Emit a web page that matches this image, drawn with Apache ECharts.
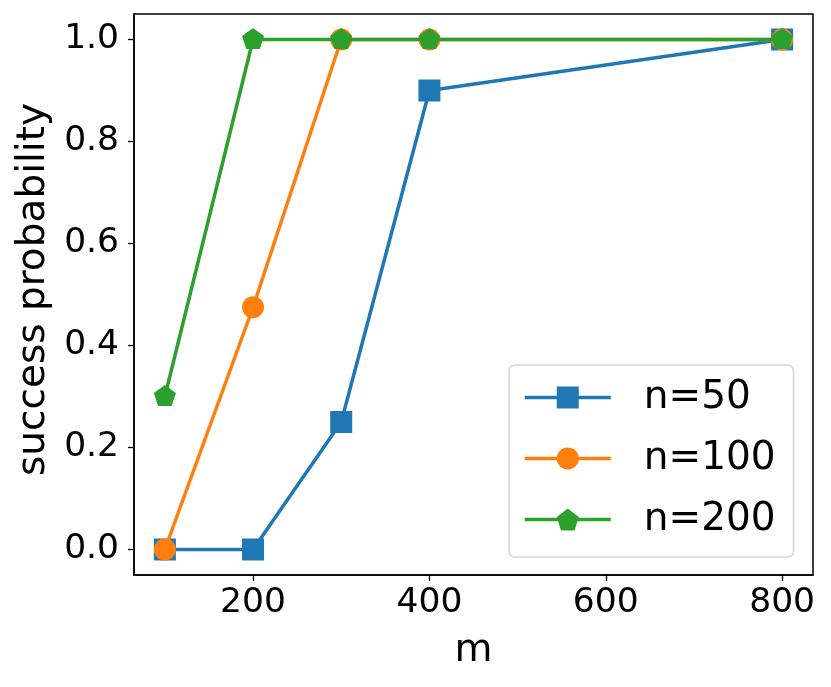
<!DOCTYPE html>
<html>
<head>
<meta charset="utf-8">
<script src="https://cdn.jsdelivr.net/npm/echarts@6/dist/echarts.min.js"></script>
<style>
html,body{margin:0;padding:0;background:#fff;}
#chart{width:831px;height:687px;}
</style>
</head>
<body>
<div id="chart"></div>
<script>
const mValues = [100, 200, 300, 400, 800];
const n50 = [0, 0, 0.25, 0.9, 1.0];
const n100 = [0, 0.475, 1.0, 1.0, 1.0];
const n200 = [0.3, 1.0, 1.0, 1.0, 1.0];
const seriesNames = ['n=50', 'n=100', 'n=200'];
const xTicks = [200, 400, 600, 800];
const yTicks = [0, 0.2, 0.4, 0.6, 0.8, 1.0];

const FONT = 'DejaVu Sans';
const pentagon = 'path://M0,-1 L0.9511,-0.309 L0.5878,0.809 L-0.5878,0.809 L-0.9511,-0.309 Z';

function pairs(ys) { return mValues.map((x, i) => [x, ys[i]]); }

const chart = echarts.init(document.getElementById('chart'), null, {renderer: 'canvas'});
chart.setOption({
  animation: false,
  backgroundColor: '#fff',
  grid: {left: 134, right: 18, top: 14, bottom: 112, show: true, borderColor: '#000', borderWidth: 1.5, backgroundColor: 'transparent'},
  xAxis: {
    type: 'value', min: 65, max: 835,
    name: 'm', nameLocation: 'middle', nameGap: 56,
    nameTextStyle: {fontFamily: FONT, fontSize: 39, color: '#000'},
    axisLine: {show: true, onZero: false, lineStyle: {color: '#000', width: 1.5}},
    axisTick: {show: true, length: 6, customValues: xTicks, lineStyle: {color: '#000', width: 1.3}},
    axisLabel: {customValues: xTicks, margin: 11, fontFamily: FONT, fontSize: 34.5, color: '#000'},
    splitLine: {show: false}
  },
  yAxis: {
    type: 'value', min: -0.05, max: 1.05,
    name: 'success probability', nameLocation: 'middle', nameGap: 81,
    nameTextStyle: {fontFamily: FONT, fontSize: 39, color: '#000', padding: [0, 0, 0, 10]},
    axisLine: {show: true, onZero: false, lineStyle: {color: '#000', width: 1.5}},
    axisTick: {show: true, length: 6, customValues: yTicks, lineStyle: {color: '#000', width: 1.3}},
    axisLabel: {customValues: yTicks, margin: 15, fontFamily: FONT, fontSize: 34.5, color: '#000',
      formatter: v => Number(v).toFixed(1)},
    splitLine: {show: false}
  },
  legend: {
    show: true, orient: 'vertical', left: 509, top: 365,
    padding: [13, 18, 18, 14],
    itemWidth: 86, itemHeight: 27.5, itemGap: 22,
    backgroundColor: 'rgba(255,255,255,0.8)',
    borderColor: '#d5d5d5', borderWidth: 1.5, borderRadius: 6,
    selectedMode: false,
    lineStyle: {width: 3.5},
    textStyle: {fontFamily: FONT, fontSize: 39, color: '#000', lineHeight: 38, padding: [0, 0, 0, 28]},
    data: seriesNames
  },
  series: [
    {name: seriesNames[0], type: 'line', data: pairs(n50), z: 2,
      symbol: 'rect', symbolSize: 22,
      lineStyle: {width: 3.5, color: '#1f77b4'}, itemStyle: {color: '#1f77b4'}},
    {name: seriesNames[1], type: 'line', data: pairs(n100), z: 3,
      symbol: 'circle', symbolSize: 22,
      lineStyle: {width: 3.5, color: '#ff7f0e'}, itemStyle: {color: '#ff7f0e'}},
    {name: seriesNames[2], type: 'line', data: pairs(n200), z: 4,
      symbol: pentagon, symbolSize: [22, 21], symbolOffset: [0, -1],
      lineStyle: {width: 3.5, color: '#2ca02c'}, itemStyle: {color: '#2ca02c'}}
  ]
});
</script>
</body>
</html>
